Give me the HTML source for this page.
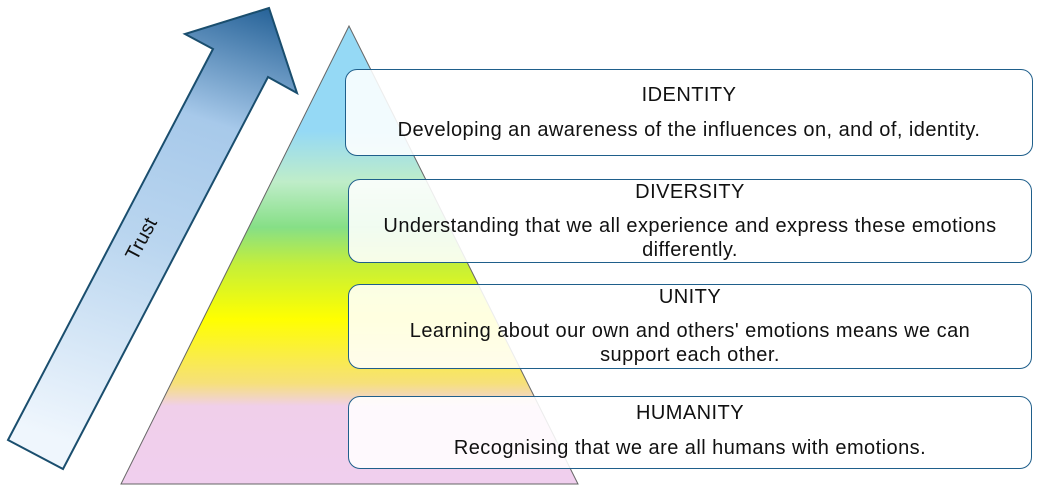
<!DOCTYPE html>
<html><head><style>
body{margin:0;width:1038px;height:487px;background:#fff;position:relative;overflow:hidden;font-family:"Liberation Sans",sans-serif}
.b{position:absolute;border:1px solid #1f5f8b;border-radius:12px;background:rgba(255,255,255,0.88);text-align:center;color:#111;font-size:20px;letter-spacing:0.45px;line-height:24px;box-sizing:border-box;padding-left:16px;padding-right:16px}
</style></head><body>
<svg width="1038" height="487" style="position:absolute;left:0;top:0">
<defs>
<linearGradient id="ag" x1="150" y1="469" x2="300" y2="8" gradientUnits="userSpaceOnUse">
<stop offset="0" stop-color="#eff6fd"/><stop offset="0.45" stop-color="#b9d5ef"/><stop offset="0.72" stop-color="#a7c9ea"/><stop offset="1" stop-color="#1d5b92"/>
</linearGradient>
<linearGradient id="pg" x1="0" y1="26" x2="0" y2="484" gradientUnits="userSpaceOnUse">
<stop offset="0" stop-color="#95d9f5"/><stop offset="0.23" stop-color="#95d9f5"/><stop offset="0.34" stop-color="#bfedc9"/><stop offset="0.44" stop-color="#86df86"/><stop offset="0.52" stop-color="#c4ef3a"/><stop offset="0.64" stop-color="#ffff00"/><stop offset="0.78" stop-color="#f6e07a"/><stop offset="0.83" stop-color="#f0cfea"/><stop offset="1" stop-color="#f0cfee"/>
</linearGradient>
</defs>
<polygon points="8,440 63,469 268,77 297,93 269,8 185,34 213,49" fill="url(#ag)" stroke="#1a4e6e" stroke-width="2"/>
<text x="0" y="0" transform="translate(147,242) rotate(-62)" text-anchor="middle" font-size="20" fill="#111" font-family="Liberation Sans,sans-serif">Trust</text>
<polygon points="349,26 121,484 578,484" fill="url(#pg)" stroke="#666" stroke-width="1"/>
</svg>
<div class="b" style="left:345px;top:69px;width:688px;height:87px;padding-top:13px">IDENTITY<br><span style="display:block;margin-top:11px">Developing an awareness of the influences on, and of, identity.</span></div>
<div class="b" style="left:348px;top:179px;width:684px;height:84px;padding-top:0px">DIVERSITY<br><span style="display:block;margin-top:10px">Understanding that we all experience and express these emotions differently.</span></div>
<div class="b" style="left:348px;top:284px;width:684px;height:85px;padding-top:0px;padding-left:40px;padding-right:40px">UNITY<br><span style="display:block;margin-top:10px">Learning about our own and others' emotions means we can support each other.</span></div>
<div class="b" style="left:348px;top:396px;width:684px;height:73px;padding-top:4px">HUMANITY<br><span style="display:block;margin-top:11px">Recognising that we are all humans with emotions.</span></div>
</body></html>
